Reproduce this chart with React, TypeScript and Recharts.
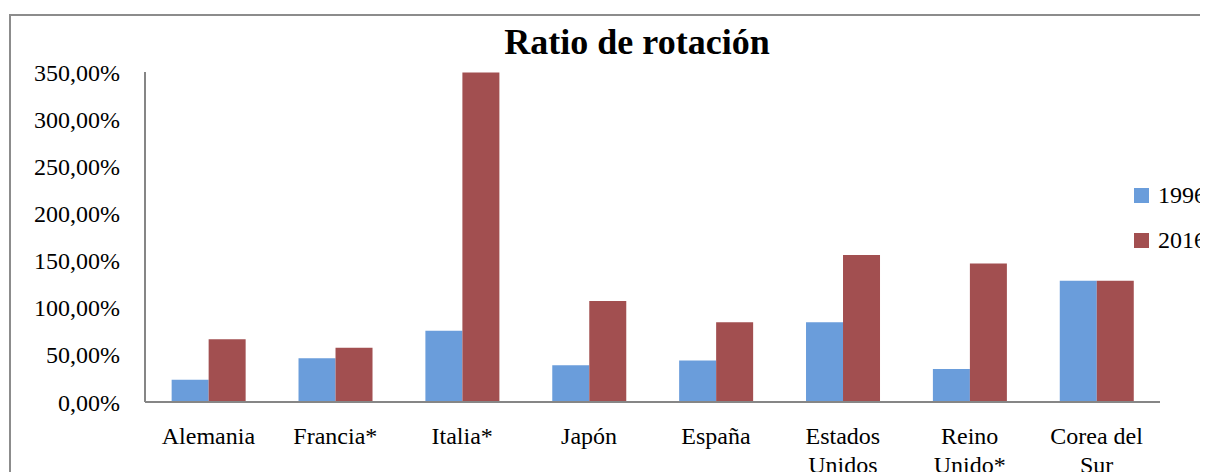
import { BarChart, Bar, XAxis, YAxis, Legend } from 'recharts';

const categories = ['Alemania', 'Francia*', 'Italia*', 'Japón', 'España', 'Estados Unidos', 'Reino Unido*', 'Corea del Sur'];
const values1996 = [23.5, 46.5, 75.5, 39, 44, 84.5, 35, 128.5];
const values2016 = [66.5, 57.5, 349.5, 107, 84.5, 156, 147, 128.5];
const yTicks = [0, 50, 100, 150, 200, 250, 300, 350];

const BLUE = '#6A9DDB';
const RED = '#A24F50';
const FONT = '"Liberation Serif", "Times New Roman", serif';

const data = categories.map((name, i) => ({ name, v1996: values1996[i], v2016: values2016[i] }));

let ctx: CanvasRenderingContext2D | null = null;
function wrap(label: string, maxWidth: number): string[] {
  if (!ctx) ctx = document.createElement('canvas').getContext('2d');
  if (!ctx) return [label];
  ctx.font = `24px ${FONT}`;
  const lines: string[] = [];
  let cur = '';
  for (const w of label.split(' ')) {
    const next = cur ? cur + ' ' + w : w;
    if (cur && ctx.measureText(next).width > maxWidth) {
      lines.push(cur);
      cur = w;
    } else cur = next;
  }
  if (cur) lines.push(cur);
  return lines;
}

function XTick({ x, y, payload }: any) {
  const lines = wrap(String(payload.value), 112);
  return (
    <text x={x} y={y + 42} textAnchor="middle" fontFamily={FONT} fontSize={24} fill="#000">
      {lines.map((l, i) => (
        <tspan key={i} x={x} dy={i === 0 ? 0 : 29}>{l}</tspan>
      ))}
    </text>
  );
}

function LegendBox() {
  const items = [
    { label: '1996', color: BLUE },
    { label: '2016', color: RED },
  ];
  return (
    <div style={{ fontFamily: FONT, fontSize: 24, color: '#000' }}>
      {items.map((it) => (
        <div key={it.label} style={{ display: 'flex', alignItems: 'center', height: 45, whiteSpace: 'nowrap' }}>
          <span style={{ width: 15, height: 15, background: it.color, marginRight: 9, display: 'inline-block' }} />
          {it.label}
        </div>
      ))}
    </div>
  );
}

export default function App() {
  return (
    <div style={{ position: 'relative', width: 1200, height: 464, overflow: 'hidden', background: '#fff' }}>
      <div
        style={{
          position: 'absolute', left: 1, top: 6, width: 1252, height: 500,
          border: '2px solid #8c8c8c', background: '#fff',
        }}
      >
        <div
          style={{
            position: 'absolute', left: 0, top: 8, width: 1252, textAlign: 'center',
            fontFamily: FONT, fontWeight: 'bold', fontSize: 36, lineHeight: '36px', color: '#000',
          }}
        >
          Ratio de rotación
        </div>
        <BarChart
          width={1252}
          height={500}
          data={data}
          margin={{ top: 56, right: 103, left: 0, bottom: 34 }}
          barCategoryGap="21%"
          barGap={0}
        >
          <XAxis
            dataKey="name"
            height={80}
            tickLine={false}
            tickSize={0}
            tickMargin={0}
            interval={0}
            axisLine={{ stroke: '#868686', strokeWidth: 2 }}
            tick={<XTick />}
          />
          <YAxis
            width={134}
            domain={[0, 350]}
            ticks={yTicks}
            interval={0}
            tickLine={false}
            tickSize={0}
            tickMargin={25}
            axisLine={{ stroke: '#868686', strokeWidth: 2 }}
            tickFormatter={(v: number) => `${v.toFixed(2).replace('.', ',')}%`}
            tick={{ fontFamily: FONT, fontSize: 24, fill: '#000' }}
          />
          <Legend
            layout="vertical"
            verticalAlign="middle"
            align="center"
            content={<LegendBox />}
            wrapperStyle={{ left: 1123, top: 157, width: 140, transform: 'none' }}
          />
          <Bar dataKey="v1996" name="1996" fill={BLUE} isAnimationActive={false} />
          <Bar dataKey="v2016" name="2016" fill={RED} isAnimationActive={false} />
        </BarChart>
      </div>
    </div>
  );
}
